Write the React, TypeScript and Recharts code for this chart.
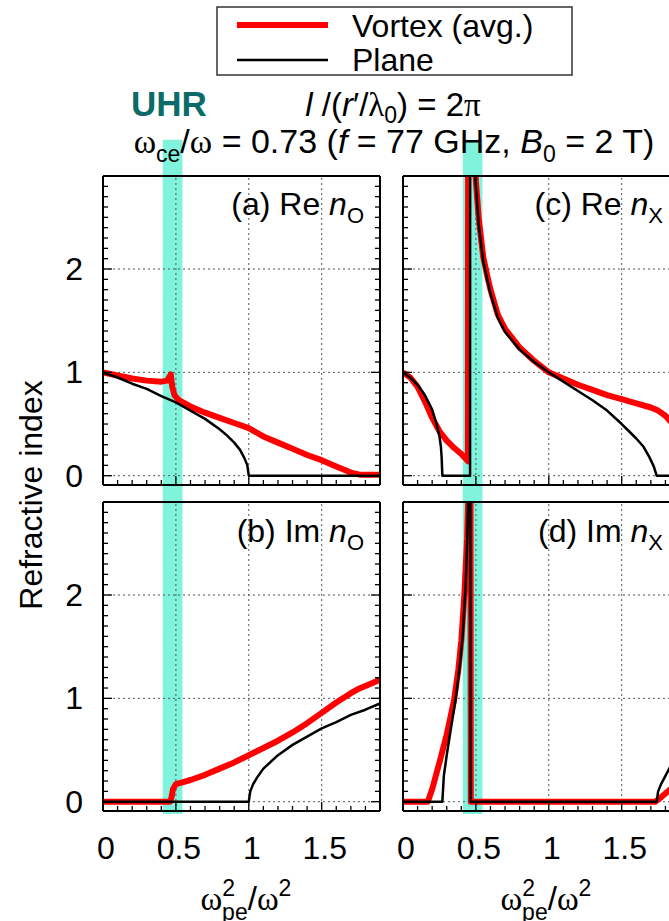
import React from 'react';
import { LineChart, Line, XAxis, YAxis, ReferenceArea, ReferenceLine } from 'recharts';

// x = omega_pe^2 / omega^2, y = refractive index
const xMinorTicks = [0, 0.1, 0.2, 0.3, 0.4, 0.5, 0.6, 0.7, 0.8, 0.9, 1, 1.1, 1.2, 1.3, 1.4, 1.5, 1.6, 1.7, 1.8, 1.9];
const xMajorTicks = [0, 0.5, 1, 1.5];
const yMinorTicks = [0, 0.1, 0.2, 0.3, 0.4, 0.5, 0.6, 0.7, 0.8, 0.9, 1, 1.1, 1.2, 1.3, 1.4, 1.5, 1.6, 1.7, 1.8, 1.9, 2, 2.1, 2.2, 2.3, 2.4, 2.5, 2.6, 2.7, 2.8];
const yMajorTicks = [0, 1, 2];
const xGridLines = [0.5, 1, 1.5];
const yGridLines = [0, 1, 2];
const xDomain = [0, 1.9];
const yDomain = [-0.09, 2.9];
const uhrBand = [0.41, 0.545];

// (a) Re n_O
const aPlaneX = [0, 0.1, 0.2, 0.3, 0.4, 0.5, 0.6, 0.7, 0.8, 0.85, 0.9, 0.94, 0.97, 0.99, 1.0, 1.9];
const aPlaneY = [1.0, 0.95, 0.89, 0.84, 0.77, 0.71, 0.63, 0.55, 0.45, 0.39, 0.32, 0.25, 0.17, 0.1, 0, 0];
const aVortexX = [0, 0.1, 0.2, 0.3, 0.4, 0.44, 0.465, 0.475, 0.49, 0.52, 0.6, 0.7, 0.8, 0.9, 1.0, 1.1, 1.2, 1.3, 1.4, 1.5, 1.6, 1.7, 1.76, 1.9];
const aVortexY = [1.0, 0.97, 0.94, 0.92, 0.91, 0.92, 0.98, 0.86, 0.78, 0.73, 0.67, 0.61, 0.56, 0.51, 0.46, 0.38, 0.32, 0.26, 0.2, 0.15, 0.09, 0.03, 0.01, 0.01];

// (b) Im n_O
const bPlaneX = [0, 1.0, 1.01, 1.03, 1.06, 1.1, 1.2, 1.3, 1.4, 1.5, 1.6, 1.7, 1.8, 1.9];
const bPlaneY = [0, 0, 0.1, 0.17, 0.24, 0.32, 0.45, 0.55, 0.63, 0.71, 0.77, 0.84, 0.89, 0.95];
const bVortexX = [0, 0.46, 0.47, 0.48, 0.5, 0.55, 0.6, 0.7, 0.8, 0.9, 1.0, 1.1, 1.2, 1.3, 1.4, 1.5, 1.6, 1.7, 1.75, 1.8, 1.9];
const bVortexY = [0, 0, 0.04, 0.12, 0.17, 0.19, 0.21, 0.26, 0.32, 0.38, 0.45, 0.52, 0.59, 0.67, 0.76, 0.86, 0.96, 1.05, 1.09, 1.12, 1.18];

// (c) Re n_X
const cPlaneX = [0, 0.05, 0.1, 0.15, 0.2, 0.23, 0.25, 0.26, 0.265, 0.27, 0.46, 0.462, 0.488, 0.5, 0.52, 0.55, 0.58, 0.6, 0.65, 0.7, 0.8, 0.9, 1.0, 1.1, 1.2, 1.3, 1.4, 1.5, 1.55, 1.6, 1.65, 1.69, 1.72, 1.74, 1.9];
const cPlaneY = [1.0, 0.95, 0.88, 0.78, 0.64, 0.5, 0.38, 0.28, 0.18, 0, 0, 10, 3.1, 2.8, 2.42, 2.08, 1.88, 1.76, 1.53, 1.39, 1.22, 1.1, 1.0, 0.91, 0.82, 0.73, 0.63, 0.5, 0.43, 0.36, 0.28, 0.18, 0.09, 0, 0];
const cVortexX = [0, 0.05, 0.1, 0.15, 0.2, 0.25, 0.3, 0.35, 0.4, 0.44, 0.445, 0.45, 0.49, 0.5, 0.52, 0.55, 0.58, 0.6, 0.65, 0.7, 0.8, 0.9, 1.0, 1.1, 1.2, 1.3, 1.4, 1.5, 1.6, 1.7, 1.75, 1.8, 1.85, 1.9];
const cVortexY = [1.0, 0.95, 0.86, 0.72, 0.56, 0.43, 0.34, 0.27, 0.21, 0.15, 0.14, 10, 3.15, 2.85, 2.48, 2.12, 1.92, 1.8, 1.56, 1.42, 1.24, 1.11, 1.0, 0.94, 0.88, 0.83, 0.78, 0.74, 0.7, 0.66, 0.63, 0.58, 0.5, 0.4];

// (d) Im n_X
const dPlaneX = [0, 0.27, 0.28, 0.3, 0.33, 0.36, 0.39, 0.41, 0.43, 0.44, 0.45, 0.46, 0.463, 1.74, 1.75, 1.77, 1.8, 1.83, 1.86, 1.9];
const dPlaneY = [0, 0, 0.25, 0.45, 0.72, 0.98, 1.32, 1.62, 2.1, 2.5, 3.1, 10, 0, 0, 0.1, 0.17, 0.25, 0.33, 0.38, 0.44];
const dVortexX = [0, 0.17, 0.2, 0.25, 0.3, 0.35, 0.38, 0.4, 0.42, 0.44, 0.45, 0.458, 0.465, 1.73, 1.76, 1.8, 1.85, 1.9];
const dVortexY = [0, 0, 0.12, 0.38, 0.65, 0.98, 1.28, 1.56, 1.98, 2.55, 3.1, 10, 0, 0, 0.03, 0.08, 0.14, 0.2];

const pts = (xs: number[], ys: number[]) => xs.map((x, i) => ({ x, y: ys[i] }));

const RED = '#ff0000';
const BAND = '#7ff3dc';
// axes take 1px each, so the plot box starts at (103, top) inside each chart
const AX = 1;
const M = { top: 39, right: 19, bottom: 69, left: 102 };
const PLOT_W = 277;
const PLOT_H = 309;

type Side = 'bottom' | 'top' | 'left' | 'right';

function tickRenderer(side: Side, showLabel: boolean) {
  return (props: any) => {
    const { x, y, payload } = props;
    const v: number = payload.value;
    const horiz = side === 'bottom' || side === 'top';
    const major = horiz ? xMajorTicks.includes(v) : yMajorTicks.includes(v);
    const len = major ? 9 : 5;
    let x2 = x;
    let y2 = y;
    if (side === 'bottom') y2 = y - len;
    if (side === 'top') y2 = y + len;
    if (side === 'left') x2 = x + len;
    if (side === 'right') x2 = x - len;
    return (
      <g>
        <line x1={x} y1={y} x2={x2} y2={y2} stroke="#000" strokeWidth={1.3} />
        {showLabel && major && side === 'bottom' && (
          <text x={x + 3} y={y + 48} textAnchor="middle" fontSize={32} fill="#000">{v}</text>
        )}
        {showLabel && major && side === 'left' && (
          <text x={x - 20} y={y + 11} textAnchor="end" fontSize={32} fill="#000">{v}</text>
        )}
      </g>
    );
  };
}

interface PanelProps {
  left: number;
  top: number;
  vortex: { x: number; y: number }[];
  plane: { x: number; y: number }[];
  showX: boolean;
  showY: boolean;
  bandY: [number, number];
}

function Panel({ left, top, vortex, plane, showX, showY, bandY }: PanelProps) {
  const axisLine = { stroke: '#000', strokeWidth: 2 };
  return (
    <div style={{ position: 'absolute', left, top }}>
      <LineChart width={M.left + PLOT_W + M.right + 2 * AX} height={M.top + PLOT_H + M.bottom + 2 * AX} margin={M}>
        <XAxis dataKey="x" type="number" domain={xDomain} allowDataOverflow ticks={xMinorTicks} interval={0}
          height={AX} tickSize={0} tickMargin={0} tickLine={false} axisLine={axisLine} tick={tickRenderer('bottom', showX)} />
        <XAxis xAxisId="top" orientation="top" type="number" domain={xDomain} allowDataOverflow ticks={xMinorTicks} interval={0}
          height={AX} tickSize={0} tickMargin={0} tickLine={false} axisLine={axisLine} tick={tickRenderer('top', false)} />
        <YAxis type="number" domain={yDomain} allowDataOverflow ticks={yMinorTicks} interval={0}
          width={AX} tickSize={0} tickMargin={0} tickLine={false} axisLine={axisLine} tick={tickRenderer('left', showY)} />
        <YAxis yAxisId="right" orientation="right" type="number" domain={yDomain} allowDataOverflow ticks={yMinorTicks} interval={0}
          width={AX} tickSize={0} tickMargin={0} tickLine={false} axisLine={axisLine} tick={tickRenderer('right', false)} />
        <ReferenceArea x1={uhrBand[0]} x2={uhrBand[1]} y1={bandY[0]} y2={bandY[1]} fill={BAND} fillOpacity={1}
          stroke="none" ifOverflow="visible" />
        {xGridLines.map((v) => (
          <ReferenceLine key={'vx' + v} x={v} stroke="#555" strokeWidth={1} strokeDasharray="2 3" />
        ))}
        {yGridLines.map((v) => (
          <ReferenceLine key={'hy' + v} y={v} stroke="#555" strokeWidth={1} strokeDasharray="2 3" />
        ))}
        <Line data={vortex} dataKey="y" type="linear" stroke={RED} strokeWidth={6} dot={false}
          strokeLinejoin="round" isAnimationActive={false} />
        <Line data={plane} dataKey="y" type="linear" stroke="#000" strokeWidth={2.5} dot={false}
          strokeLinejoin="round" isAnimationActive={false} />
      </LineChart>
    </div>
  );
}

const serif = '"Liberation Serif", "DejaVu Serif", serif';

function PanelLabel({ x, y, id, part, sub }: { x: number; y: number; id: string; part: string; sub: string }) {
  return (
    <text x={x} y={y} textAnchor="end" fontSize={32} fill="#000">
      <tspan>{`(${id}) ${part} `}</tspan>
      <tspan fontStyle="italic">n</tspan>
      <tspan fontSize={22} dy={8}>{sub}</tspan>
    </text>
  );
}

function AxisTitle({ cx }: { cx: number }) {
  return (
    <text x={cx} y={910} textAnchor="middle" fontSize={33} fill="#000">
      <tspan fontFamily={serif}>ω</tspan>
      <tspan fontSize={23} dy={-14}>2</tspan>
      <tspan fontSize={23} dx={-13} dy={24}>pe</tspan>
      <tspan dy={-10}>/</tspan>
      <tspan fontFamily={serif}>ω</tspan>
      <tspan fontSize={23} dy={-14}>2</tspan>
    </text>
  );
}

const TOP_ROW = 176 - M.top - AX;
const BOTTOM_ROW = 502 - M.top - AX;

export default function App() {
  return (
    <div style={{ position: 'fixed', left: 0, top: 0, width: 669, height: 921, overflow: 'hidden', background: '#fff',
      fontFamily: '"Liberation Sans", Arial, Helvetica, sans-serif' }}>
      <Panel left={0} top={TOP_ROW} vortex={pts(aVortexX, aVortexY)} plane={pts(aPlaneX, aPlaneY)}
        showX={false} showY={true} bandY={[-0.18, 3.25]} />
      <Panel left={0} top={BOTTOM_ROW} vortex={pts(bVortexX, bVortexY)} plane={pts(bPlaneX, bPlaneY)}
        showX={true} showY={true} bandY={[-0.12, 2.99]} />
      <Panel left={300} top={TOP_ROW} vortex={pts(cVortexX, cVortexY)} plane={pts(cPlaneX, cPlaneY)}
        showX={false} showY={false} bandY={[-0.18, 3.25]} />
      <Panel left={300} top={BOTTOM_ROW} vortex={pts(dVortexX, dVortexY)} plane={pts(dPlaneX, dPlaneY)}
        showX={true} showY={false} bandY={[-0.12, 2.99]} />

      <svg width={669} height={921} style={{ position: 'absolute', left: 0, top: 0, pointerEvents: 'none' }}>
        {/* legend */}
        <rect x={217} y={7} width={355} height={68} fill="#fff" stroke="#333" strokeWidth={1.5} />
        <line x1={237} y1={25} x2={328} y2={25} stroke={RED} strokeWidth={6} />
        <line x1={237} y1={60} x2={328} y2={60} stroke="#000" strokeWidth={2.5} />
        <text x={352} y={37} fontSize={32} fill="#000">Vortex (avg.)</text>
        <text x={352} y={71} fontSize={32} fill="#000">Plane</text>

        {/* titles */}
        <text x={131} y={116} fontSize={35} fontWeight="bold" fill="#0b6b69">UHR</text>
        <text x={393} y={116} textAnchor="middle" fontSize={33} fill="#000">
          <tspan fontStyle="italic">l</tspan>
          <tspan>{' /('}</tspan>
          <tspan fontStyle="italic">r</tspan>
          <tspan>{'′/'}</tspan>
          <tspan fontFamily={serif}>λ</tspan>
          <tspan fontSize={23} dy={7}>0</tspan>
          <tspan dy={-7}>{') = 2'}</tspan>
          <tspan fontFamily={serif}>π</tspan>
        </text>
        <text x={394} y={153} textAnchor="middle" fontSize={34} fill="#000">
          <tspan fontFamily={serif}>ω</tspan>
          <tspan fontSize={23} dy={9}>ce</tspan>
          <tspan dy={-9}>/</tspan>
          <tspan fontFamily={serif}>ω</tspan>
          <tspan>{' = 0.73 ('}</tspan>
          <tspan fontStyle="italic">f</tspan>
          <tspan>{' = 77 GHz, '}</tspan>
          <tspan fontStyle="italic">B</tspan>
          <tspan fontSize={23} dy={9}>0</tspan>
          <tspan dy={-9}>{' = 2 T)'}</tspan>
        </text>

        {/* panel labels */}
        <PanelLabel x={364} y={215} id="a" part="Re" sub="O" />
        <PanelLabel x={364} y={542} id="b" part="Im" sub="O" />
        <PanelLabel x={663} y={215} id="c" part="Re" sub="X" />
        <PanelLabel x={663} y={542} id="d" part="Im" sub="X" />

        {/* axis titles */}
        <text x={42} y={495} transform="rotate(-90 42 495)" textAnchor="middle" fontSize={32} fill="#000">Refractive index</text>
        <AxisTitle cx={246} />
        <AxisTitle cx={546} />
      </svg>
    </div>
  );
}
